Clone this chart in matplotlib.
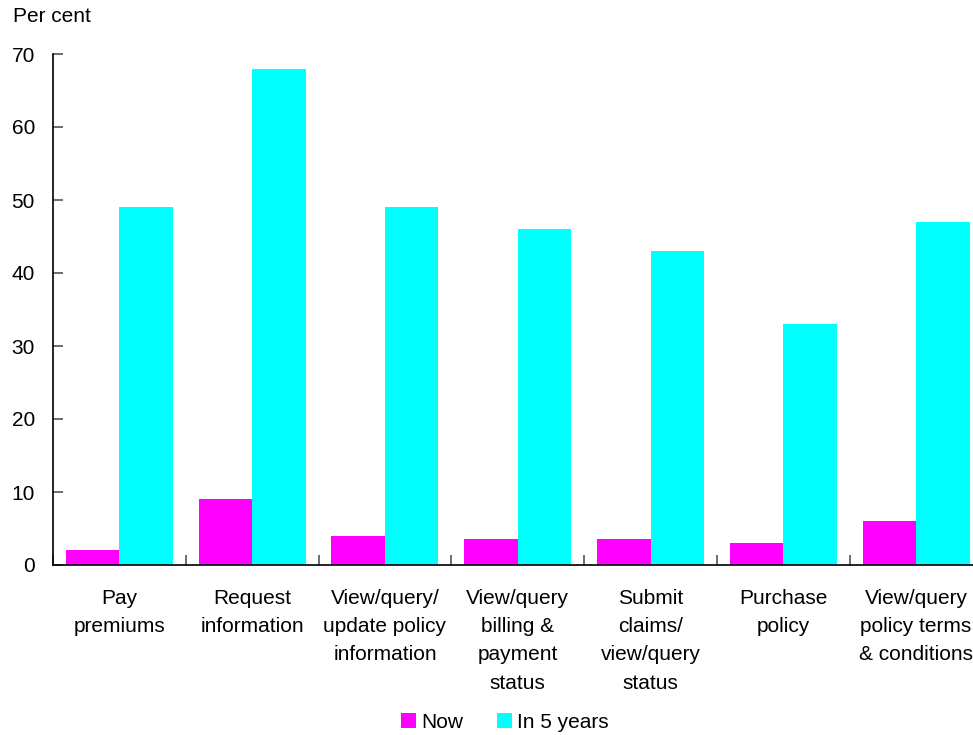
import matplotlib
matplotlib.use("Agg")
import matplotlib.pyplot as plt
import numpy as np

plt.rcParams['font.family'] = ['Liberation Sans', 'DejaVu Sans']

categories = ["Pay\npremiums", "Request\ninformation", "View/query/\nupdate policy\ninformation",
              "View/query\nbilling &\npayment\nstatus", "Submit\nclaims/\nview/query\nstatus",
              "Purchase\npolicy", "View/query\npolicy terms\n& conditions"]
now = [2, 9, 4, 3.5, 3.5, 3, 6]
in5 = [49, 68, 49, 46, 43, 33, 47]
series_names = ["Now", "In 5 years"]
yticks = [0, 10, 20, 30, 40, 50, 60, 70]

W, H = 973, 735
FS = 15
fig = plt.figure(figsize=(W/100, H/100), dpi=100)
ax = fig.add_axes([53/W, (H-565)/H, 929.5/W, (565-54)/H])

x = np.arange(len(categories))
bw = 0.403
ax.bar(x - bw/2, now, bw, color='#FF00FF', label=series_names[0])
ax.bar(x + bw/2, in5, bw, color='#00FFFF', label=series_names[1])

ax.set_xlim(-0.5, len(categories) - 0.5)
ax.set_ylim(0, 70)
ax.set_yticks(yticks)
ax.tick_params(axis='y', direction='in', length=7, width=1.2, color='#555555', pad=13, labelsize=FS)
ax.set_xticks(np.arange(len(categories) + 1) - 0.5)
ax.set_xticklabels([])
ax.tick_params(axis='x', which='major', direction='in', length=7, width=1.2, color='#555555')
ax.set_xticks(x, minor=True)
ax.set_xticklabels(categories, minor=True, fontsize=FS, linespacing=1.62, va='top')
ax.tick_params(axis='x', which='minor', length=0, pad=17)

for s in ['top', 'right']:
    ax.spines[s].set_visible(False)
for s in ['left', 'bottom']:
    ax.spines[s].set_linewidth(1.2)
    ax.spines[s].set_color('black')

fig.text(13/W, 1 - 17/H, "Per cent", fontsize=FS, va='center', ha='left')

fig.legend(loc='center', bbox_to_anchor=(505/W, 1 - 722/H), ncol=2, frameon=False,
           fontsize=FS, handlelength=0.72, handleheight=0.72, handletextpad=0.25,
           columnspacing=1.6)

fig.savefig("out.png", dpi=100)
